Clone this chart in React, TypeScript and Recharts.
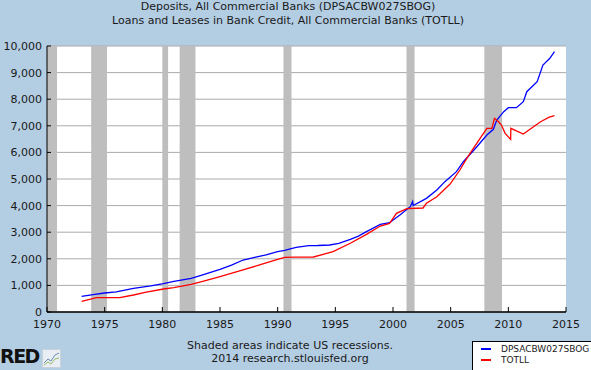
import { CartesianGrid, Line, LineChart, ReferenceArea, XAxis, YAxis } from "recharts";

// Deposits, All Commercial Banks (billions of dollars)
const depYears = [
  1973.0, 1974.0, 1975.0, 1976.0, 1977.5, 1979.0, 1980.1, 1981.0, 1982.5, 1983.5, 1985.0, 1986.0,
  1987.0, 1988.0, 1989.0, 1990.0, 1990.6, 1991.6, 1992.7, 1993.5, 1994.5, 1995.3, 1996.3, 1997.0,
  1997.7, 1998.9, 1999.7, 2000.6, 2001.5, 2001.7, 2001.75, 2002.9, 2003.8, 2004.5, 2005.5, 2006.1,
  2007.27, 2008.14, 2008.7, 2009.0, 2009.6, 2010.0, 2010.7, 2011.3, 2011.6, 2012.5, 2013.0, 2013.6,
  2014.0,
];
const depValues = [
  590, 650, 714, 760, 890, 980, 1064, 1150, 1266, 1400, 1605, 1760,
  1955, 2050, 2150, 2267, 2318, 2432, 2494, 2500, 2519, 2580, 2733, 2850,
  3020, 3296, 3357, 3647, 3960, 4150, 4000, 4273, 4586, 4900, 5276, 5650,
  6214, 6654, 6867, 7218, 7530, 7680, 7680, 7906, 8282, 8658, 9286, 9537,
  9787,
];

// Loans and Leases in Bank Credit (TOTLL)
const loanYears = [
  1973.0, 1974.3, 1976.3, 1977.5, 1978.5, 1980.1, 1981.0, 1982.5, 1983.5, 1985.0, 1987.0, 1988.5,
  1990.0, 1990.6, 1991.5, 1993.1, 1994.8, 1996.3, 1997.7, 1998.9, 1999.7, 2000.3, 2001.2, 2002.6,
  2002.9, 2003.8, 2004.95, 2005.8, 2006.4, 2006.97, 2007.55, 2008.14, 2008.57, 2008.8, 2009.15,
  2009.4, 2009.72, 2010.2, 2010.22, 2011.3, 2012.0, 2012.8, 2013.5, 2014.0,
];
const loanValues = [
  402, 538, 538, 639, 740, 865, 920, 1040, 1150, 1328, 1579, 1780,
  1980, 2055, 2060, 2068, 2267, 2583, 2920, 3233, 3334, 3710, 3883, 3910,
  4086, 4335, 4812, 5338, 5778, 6154, 6530, 6906, 6906, 7282, 7154,
  7030, 6717, 6491, 6906, 6692, 6906, 7154, 7318, 7380,
];

const recessionStarts = [1970.0, 1973.83, 1980.0, 1981.5, 1990.5, 2001.17, 2007.92];
const recessionEnds = [1970.87, 1975.2, 1980.5, 1982.87, 1991.2, 2001.87, 2009.45];

const xTicks = [1970, 1975, 1980, 1985, 1990, 1995, 2000, 2005, 2010, 2015];
const yTicks = [0, 1000, 2000, 3000, 4000, 5000, 6000, 7000, 8000, 9000, 10000];

const depData = depYears.map((year, i) => ({ year, value: depValues[i] }));
const loanData = loanYears.map((year, i) => ({ year, value: loanValues[i] }));

const font = "'DejaVu Sans', Verdana, sans-serif";
const tickStyle = { fontFamily: font, fontSize: 11, fill: "#1a1a1a" };

export default function App() {
  return (
    <div
      style={{
        position: "absolute",
        left: 0,
        top: 0,
        width: 591,
        height: 370,
        background: "#b3cde3",
        overflow: "hidden",
        fontFamily: font,
      }}
    >
      <div
        style={{
          position: "absolute",
          left: 88,
          width: 400,
          top: 0,
          textAlign: "center",
          fontSize: 11,
          lineHeight: "13.5px",
          color: "#1a1a1a",
        }}
      >
        <div>Deposits, All Commercial Banks (DPSACBW027SBOG)</div>
        <div>Loans and Leases in Bank Credit, All Commercial Banks (TOTLL)</div>
      </div>

      <LineChart width={591} height={370} margin={{ top: 46, right: 25, left: 0, bottom: 0 }}>
        <CartesianGrid vertical={false} stroke="#aaaaaa" fill="#ffffff" fillOpacity={1} />
        {recessionStarts.map((start, i) => (
          <ReferenceArea
            key={start}
            x1={start}
            x2={recessionEnds[i]}
            fill="#bebebe"
            fillOpacity={1}
            stroke="none"
            ifOverflow="hidden"
          />
        ))}
        <XAxis
          dataKey="year"
          type="number"
          domain={[1970, 2015]}
          ticks={xTicks}
          allowDuplicatedCategory={false}
          height={58}
          tick={tickStyle}
          tickSize={-5}
          tickMargin={13}
          axisLine={{ stroke: "#000", strokeWidth: 1.5 }}
          tickLine={{ stroke: "#000" }}
        />
        <YAxis
          type="number"
          domain={[0, 10000]}
          ticks={yTicks}
          width={47}
          tick={tickStyle}
          tickSize={-4}
          tickMargin={9}
          tickFormatter={(v: number) => v.toLocaleString("en-US")}
          axisLine={{ stroke: "#000" }}
          tickLine={{ stroke: "#000" }}
        />
        <Line
          data={depData}
          dataKey="value"
          type="linear"
          stroke="#0000ff"
          strokeWidth={1.3}
          dot={false}
          isAnimationActive={false}
        />
        <Line
          data={loanData}
          dataKey="value"
          type="linear"
          stroke="#ff0000"
          strokeWidth={1.3}
          dot={false}
          isAnimationActive={false}
        />
      </LineChart>

      <div
        style={{
          position: "absolute",
          left: 140,
          width: 300,
          top: 339,
          textAlign: "center",
          fontSize: 11,
          lineHeight: "13.4px",
          color: "#1a1a1a",
        }}
      >
        <div>Shaded areas indicate US recessions.</div>
        <div>2014 research.stlouisfed.org</div>
      </div>

      <div
        style={{
          position: "absolute",
          left: 0,
          top: 345,
          fontSize: 19,
          fontWeight: 900,
          letterSpacing: -1.5,
          lineHeight: "22px",
          color: "#111",
          whiteSpace: "nowrap",
        }}
      >
        RED
      </div>
      <svg style={{ position: "absolute", left: 42, top: 349 }} width={19} height={19}>
        <rect x={0.5} y={0.5} width={18} height={18} fill="#e8eef3" stroke="#c8d2da" />
        <polyline points="2,14 6,10 9,12 13,6 17,4" fill="none" stroke="#6b8fb0" strokeWidth={1} />
        <polyline points="2,16 6,13 9,15 13,10 17,9" fill="none" stroke="#9bbb6a" strokeWidth={1} />
      </svg>

      <div
        style={{
          position: "absolute",
          left: 472,
          top: 341,
          width: 130,
          height: 30,
          background: "#fff",
          border: "1px solid #000",
          fontSize: 9,
          color: "#1a1a1a",
        }}
      >
        <div style={{ position: "absolute", left: 8, top: 6, width: 10, height: 2, background: "#0000ff" }} />
        <div style={{ position: "absolute", left: 28, top: 1, lineHeight: "12px" }}>DPSACBW027SBOG</div>
        <div style={{ position: "absolute", left: 8, top: 17, width: 10, height: 2, background: "#ff0000" }} />
        <div style={{ position: "absolute", left: 28, top: 12, lineHeight: "12px" }}>TOTLL</div>
      </div>
    </div>
  );
}
